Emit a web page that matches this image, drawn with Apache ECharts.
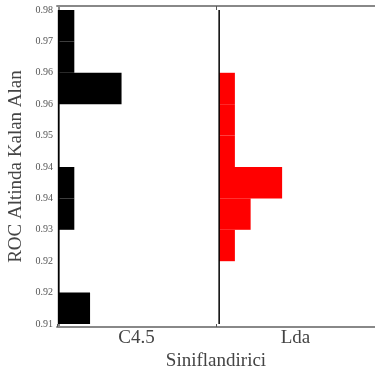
<!DOCTYPE html>
<html>
<head>
<meta charset="utf-8">
<script src="https://cdn.jsdelivr.net/npm/echarts@6/dist/echarts.min.js"></script>
<style>html,body{margin:0;padding:0;background:#fff;}#c{width:375px;height:374px;}</style>
</head>
<body>
<div id="c"></div>
<script>
const categories = ['C4.5', 'Lda'];
const binEdges = [0.9112, 0.9179, 0.9246, 0.9313, 0.9380, 0.9447, 0.9514, 0.9581, 0.9648, 0.9715, 0.9782];
const c45Counts = [2, 0, 0, 1, 1, 0, 0, 4, 1, 1];
const ldaCounts = [0, 0, 1, 2, 4, 1, 1, 1, 0, 0];
const yTickValues = binEdges.slice();
const seriesColors = ['#000000', '#ff0000'];

const baseOffsets = [0, 10.2];
const countsByCat = [c45Counts, ldaCounts];

const chart = echarts.init(document.getElementById('c'), null, {renderer: 'canvas'});
const serif = '"Liberation Serif", "Times New Roman", serif';

function histSeries(ci) {
  const data = [];
  countsByCat[ci].forEach((n, b) => { if (n > 0) data.push([b, n]); });
  return {
    type: 'custom',
    xAxisIndex: 1,
    yAxisIndex: 0,
    data: data,
    silent: true,
    renderItem: function (params, api) {
      const b = api.value(0), n = api.value(1);
      const base = baseOffsets[ci];
      const p0 = api.coord([base, binEdges[b]]);
      const p1 = api.coord([base + n, binEdges[b + 1]]);
      return {
        type: 'rect',
        shape: {x: p0[0], y: p1[1], width: p1[0] - p0[0], height: p0[1] - p1[1]},
        style: {fill: seriesColors[ci]}
      };
    }
  };
}

const baseLineSeries = {
  type: 'custom',
  xAxisIndex: 1,
  yAxisIndex: 0,
  data: categories.map((c, i) => [i]),
  silent: true,
  z: 3,
  renderItem: function (params, api) {
    const i = api.value(0);
    const a = api.coord([baseOffsets[i], binEdges[0]]);
    const b = api.coord([baseOffsets[i], binEdges[binEdges.length - 1]]);
    return {
      type: 'line',
      shape: {x1: a[0], y1: a[1], x2: b[0], y2: b[1]},
      style: {stroke: '#000', lineWidth: 1.5}
    };
  }
};

chart.setOption({
  animation: false,
  backgroundColor: '#fff',
  grid: {left: 57, right: 0, top: 6, bottom: 47, containLabel: false, outerBoundsMode: 'none'},
  xAxis: [
    {
      type: 'category',
      data: categories,
      position: 'bottom',
      boundaryGap: true,
      axisLine: {lineStyle: {color: '#888', width: 2}},
      axisTick: {show: true, inside: true, length: 3, lineStyle: {color: '#555'}},
      axisLabel: {fontFamily: serif, fontSize: 19, color: '#444', margin: 2},
      splitLine: {show: false},
      name: 'Siniflandirici',
      nameLocation: 'middle',
      nameGap: 25,
      nameMoveOverlap: false,
      nameTextStyle: {fontFamily: serif, fontSize: 19, color: '#444'}
    },
    {
      type: 'value',
      min: -0.1,
      max: 20.1,
      position: 'top',
      axisLine: {show: true, lineStyle: {color: '#888', width: 2}},
      axisTick: {show: true, inside: true, length: 4, customValues: [10], lineStyle: {color: '#555'}},
      axisLabel: {show: false},
      splitLine: {show: false}
    }
  ],
  yAxis: [{
    type: 'value',
    min: 0.91056,
    max: 0.97905,
    axisLine: {show: true, lineStyle: {color: '#888', width: 2}},
    axisTick: {show: false},
    splitLine: {show: false},
    axisLabel: {
      customValues: yTickValues,
      formatter: v => v.toFixed(2),
      fontFamily: serif, fontSize: 10, color: '#555', margin: 4
    },
    name: 'ROC Altinda Kalan Alan',
    nameLocation: 'middle',
    nameGap: 31,
    nameMoveOverlap: false,
    nameTextStyle: {fontFamily: serif, fontSize: 19, color: '#444'}
  }],
  series: [histSeries(0), histSeries(1), baseLineSeries]
});
</script>
</body>
</html>
